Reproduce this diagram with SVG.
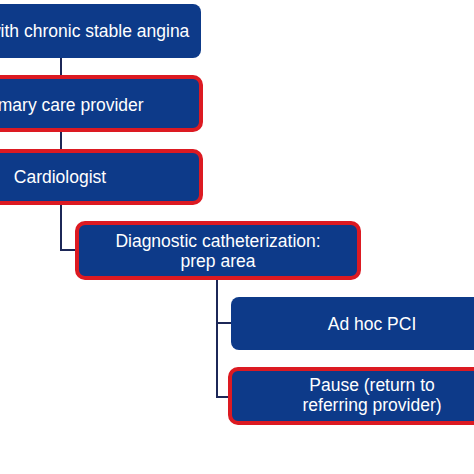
<svg xmlns="http://www.w3.org/2000/svg" width="474" height="474" viewBox="0 0 474 474">
<style>
.box{fill:#0d3a89}
.hl{stroke:#dc1a22;stroke-width:4}
.t{fill:#ffffff;font-family:"Liberation Sans",Arial,sans-serif;font-size:17.5px;text-anchor:middle}
.c{fill:none;stroke:#1c2757;stroke-width:2}
</style>
<rect width="474" height="474" fill="#ffffff"/>
<g id="connectors">
<path class="c" d="M61 58V77M61 130V151M61 203V250H77"/>
<path class="c" d="M217 278V397H230M217 323H231"/>
</g>
<g id="n1">
<rect class="box" x="-80" y="4" width="281" height="54" rx="8"/>
<text class="t" x="59" y="37">Patient with chronic stable angina</text>
</g>
<g id="n2">
<rect class="box hl" x="-80" y="77" width="281" height="53" rx="8"/>
<text class="t" x="60" y="111">Primary care provider</text>
</g>
<g id="n3">
<rect class="box hl" x="-80" y="151" width="281" height="52" rx="8"/>
<text class="t" x="60" y="183">Cardiologist</text>
</g>
<g id="n4">
<rect class="box hl" x="77" y="223" width="282" height="55" rx="8"/>
<text class="t" x="218" y="247">Diagnostic catheterization:</text>
<text class="t" x="218" y="267">prep area</text>
</g>
<g id="n5">
<rect class="box" x="231" y="297" width="260" height="53" rx="8"/>
<text class="t" x="372" y="330">Ad hoc PCI</text>
</g>
<g id="n6">
<rect class="box hl" x="230" y="369" width="260" height="54" rx="8"/>
<text class="t" x="372" y="391">Pause (return to</text>
<text class="t" x="372" y="411">referring provider)</text>
</g>
</svg>
